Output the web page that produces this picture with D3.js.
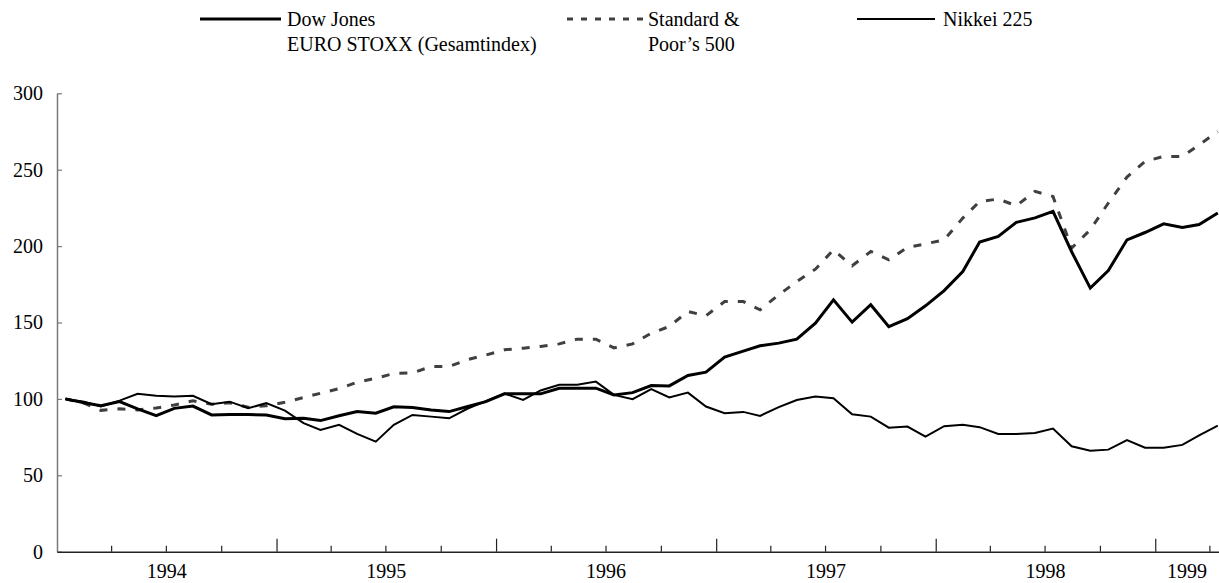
<!DOCTYPE html>
<html>
<head>
<meta charset="utf-8">
<script src="https://cdn.jsdelivr.net/npm/d3@7"></script>
<style>
  html, body { margin: 0; padding: 0; background: #fff; }
  svg { display: block; }
  svg text { font-family: "Liberation Serif", "DejaVu Serif", serif !important; fill: #000; }
</style>
</head>
<body>
<svg id="chart" width="1219" height="583"></svg>
<script>
// ---- Data (index, January 1994 = 100), monthly from 1994-01 to 1999-04 ----
const seriesNames = ["Dow Jones EURO STOXX (Gesamtindex)", "Standard & Poor’s 500", "Nikkei 225"];

const euroStoxx = [
  100, 97.5, 95.5, 98.2, 93.5, 89, 93.8, 95.3, 89.5, 89.8, 89.8, 89.5,
  87, 87.3, 85.8, 89, 91.7, 90.6, 94.8, 94.3, 92.8, 91.7, 95, 98.2,
  103.3, 103.3, 103.3, 107, 107, 107, 102.6, 104.1, 108.7, 108.5, 115.3, 117.5,
  127.3, 131.3, 134.8, 136.5, 139.1, 149.6, 164.8, 150.2, 161.6, 147.3, 152.5, 160.9,
  170.9, 183.4, 202.6, 206.3, 215.5, 218.5, 222.7, 196.3, 172.5, 184, 204.1, 208.9,
  214.6, 212.2, 214.1, 221.6
];

const sp500 = [
  100, 97.2, 92.5, 93.5, 92.8, 94, 96, 98.8, 96.5, 97.5, 94.5, 95.5,
  97.8, 100.9, 103.7, 106.7, 110.9, 113.5, 116.6, 117, 121.2, 121.2, 125.8, 128.7,
  132.1, 133.2, 134.3, 136, 139.1, 139.1, 133.4, 136, 143, 147.4, 157.2, 154.4,
  163.7, 163.7, 158.3, 168.1, 176.8, 184.9, 197.6, 187.1, 196.5, 191, 199.1, 201.5,
  204.1, 218.3, 229.2, 230.8, 226.4, 235.8, 232.5, 198.7, 210.7, 228.2, 245.2, 255.4,
  258.7, 258.7, 266.3, 275
];

const nikkei = [
  100, 98.2, 95, 98.9, 103.3, 102, 101.5, 102, 96.5, 98.2, 93.9, 97.2,
  92.3, 84.1, 79.7, 83, 77.1, 72, 83, 89.5, 88.4, 87.3, 93.7, 98.5,
  103.5, 99.3, 105.5, 109.2, 109.2, 111.3, 102.6, 99.8, 106.4, 100.9, 104.1, 95,
  90.6, 91.5, 88.9, 94.6, 99.3, 101.5, 100.4, 90, 88.4, 81.2, 81.9, 75.3,
  82.1, 83, 81.5, 77.1, 77.1, 77.7, 80.6, 69, 66.1, 66.8, 73.1, 68.1,
  68.1, 69.9, 76.2, 82.5
];

const yTicks = [0, 50, 100, 150, 200, 250, 300];
const yearLabels = ["1994", "1995", "1996", "1997", "1998", "1999"];

// months (category axis) : Jan 1994 .. Apr 1999, points plotted mid-month
const months = d3.timeMonth.range(new Date(1994, 0, 1), new Date(1999, 4, 1));
const pointDates = months.map(m => d3.timeDay.offset(m, 14));

const FONT = '"Liberation Serif", "DejaVu Serif", serif';

// ---- Layout ----
const svg = d3.select("#chart");
const x = d3.scaleTime()
  .domain([new Date(1994, 0, 1), new Date(1999, 3, 17)])
  .range([57, 1219]);
const y = d3.scaleLinear().domain([0, 300]).range([551.7, 93.3]);

// ---- Y axis ----
const yAxis = svg.append("g")
  .attr("transform", `translate(${x.range()[0]},0)`)
  .call(d3.axisLeft(y).tickValues(yTicks).tickSizeInner(-5).tickSizeOuter(0).tickPadding(14));
yAxis.attr("font-family", FONT).attr("font-size", 20);
yAxis.select(".domain").attr("stroke", "#7a7a7a").attr("stroke-width", 1.5);
yAxis.selectAll(".tick line").attr("stroke", "#7a7a7a").attr("stroke-width", 1.2);
yAxis.selectAll(".tick text").attr("fill", "#000");

// ---- X axis ----
const quarterTicks = d3.timeMonth.every(3).range(new Date(1994, 3, 1), x.domain()[1]);
const minorTicks = quarterTicks.filter(d => d.getMonth() !== 0);
const majorTicks = quarterTicks.filter(d => d.getMonth() === 0);

const xAxisMinor = svg.append("g")
  .attr("transform", `translate(0,${y(0)})`)
  .call(d3.axisBottom(x).tickValues(minorTicks).tickSizeInner(-6).tickSizeOuter(0).tickFormat(""));
xAxisMinor.select(".domain").attr("stroke", "#222").attr("stroke-width", 1.5);
xAxisMinor.selectAll(".tick line").attr("stroke", "#222").attr("stroke-width", 1.2);

const xAxisMajor = svg.append("g")
  .attr("transform", `translate(0,${y(0)})`)
  .call(d3.axisBottom(x).tickValues(majorTicks).tickSizeInner(-13).tickSizeOuter(0).tickFormat(""));
xAxisMajor.select(".domain").remove();
xAxisMajor.selectAll(".tick line").attr("stroke", "#222").attr("stroke-width", 1.2);

// year labels centered in the visible part of each year
svg.append("g").selectAll("text")
  .data(yearLabels)
  .join("text")
  .attr("x", d => {
    const a = Math.max(x(new Date(+d, 0, 1)), x.range()[0]);
    const b = Math.min(x(new Date(+d + 1, 0, 1)), x.range()[1]);
    return (a + b) / 2;
  })
  .attr("y", 578)
  .attr("text-anchor", "middle")
  .attr("font-family", FONT)
  .attr("font-size", 20)
  .text(d => d);

// ---- Lines ----
const line = d3.line()
  .x((d, i) => x(pointDates[i]))
  .y(d => y(d));

const styles = [
  { data: euroStoxx, stroke: "#000", width: 3, dash: null },
  { data: sp500, stroke: "#404040", width: 3, dash: "8,10" },
  { data: nikkei, stroke: "#000", width: 2, dash: null }
];

// draw S&P first, then Nikkei, then Euro Stoxx on top
[1, 2, 0].forEach(k => {
  const s = styles[k];
  svg.append("path")
    .datum(s.data)
    .attr("fill", "none")
    .attr("stroke", s.stroke)
    .attr("stroke-width", s.width)
    .attr("stroke-dasharray", s.dash)
    .attr("stroke-linejoin", "miter")
    .attr("d", line);
});

// ---- Legend ----
const legend = [
  { lines: ["Dow Jones", "EURO STOXX (Gesamtindex)"], x1: 200, x2: 281, tx: 287, style: styles[0], dash: null },
  { lines: ["Standard &", "Poor’s 500"], x1: 567, x2: 643, tx: 648, style: styles[1], dash: "6,8" },
  { lines: ["Nikkei 225"], x1: 857, x2: 935, tx: 943, style: styles[2], dash: null }
];
const lg = svg.append("g");
legend.forEach(l => {
  lg.append("line")
    .attr("x1", l.x1).attr("x2", l.x2)
    .attr("y1", 19).attr("y2", 19)
    .attr("stroke", l.style.stroke)
    .attr("stroke-width", l.style.width)
    .attr("stroke-dasharray", l.dash);
  const t = lg.append("text")
    .attr("x", l.tx).attr("y", 26)
    .attr("font-family", FONT)
    .attr("font-size", 20);
  l.lines.forEach((s, i) => {
    t.append("tspan").attr("x", l.tx).attr("dy", i === 0 ? 0 : 25).text(s);
  });
});
</script>
</body>
</html>
